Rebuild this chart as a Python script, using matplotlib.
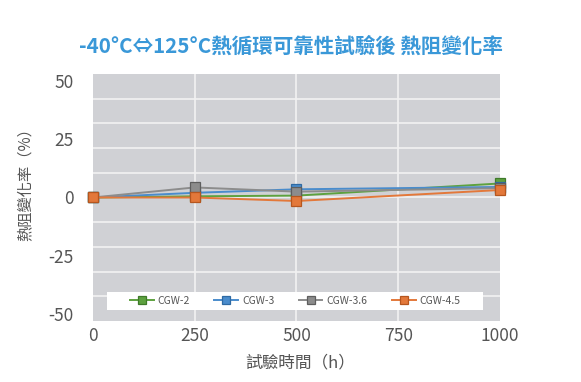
import matplotlib.pyplot as plt
import matplotlib.patches as mpatches
import numpy as np

plt.rcParams['font.family'] = ['Noto Sans CJK TC', 'DejaVu Sans']
plt.rcParams['axes.unicode_minus'] = False

hours = [0, 250, 500, 1000]
series_names = ['CGW-2', 'CGW-3', 'CGW-3.6', 'CGW-4.5']
cgw_2 = [0, 0.5, 0.8, 6.0]
cgw_3 = [0, 2.0, 3.5, 4.5]
cgw_36 = [0, 4.3, 2.5, 4.0]
cgw_45 = [0, 0.0, -1.5, 3.2]

x_ticks = [0, 250, 500, 750, 1000]
y_ticks = [-50, -25, 0, 25, 50]

colors = ['#5da13f', '#4a8ccc', '#8c8c8c', '#e3783a']
edges = ['#3f7a2a', '#2f6aa3', '#5e5e5e', '#b5561f']

fig = plt.figure(figsize=(5.81, 3.82), dpi=100)
ax = fig.add_axes([0.160, 0.1597, 0.7005, 0.6466])
ax.set_facecolor('#d0d1d5')

# grid lines (10 equal bands, independent of labels like the original)
ylim = 52.8
for g in np.linspace(-ylim, ylim, 11)[1:-1]:
    ax.axhline(g, color='#f2f2f2', lw=1.2, zorder=1)
for g in [250, 500, 750]:
    ax.axvline(g, color='#f2f2f2', lw=1.2, zorder=1)

for vals, name, c, ec in zip([cgw_2, cgw_3, cgw_36, cgw_45], series_names, colors, edges):
    ax.plot(hours, vals, color=c, lw=1.4, marker='s', markersize=6.5,
            markerfacecolor=c, markeredgecolor=ec, markeredgewidth=0.9,
            label=name, zorder=3, clip_on=False)

ax.set_xlim(0, 1000)
ax.set_ylim(-ylim, ylim)
ax.set_xticks(x_ticks)
ax.set_yticks(y_ticks)
ax.tick_params(axis='x', length=0, labelsize=12.5, labelcolor='#555555', pad=4)
ax.tick_params(axis='y', length=0, labelsize=12.5, labelcolor='#555555', pad=14)
for s in ax.spines.values():
    s.set_visible(False)

ax.set_xlabel('試驗時間（h）', fontsize=12, color='#555555', labelpad=6)
ax.xaxis.set_label_coords(0.51, -0.135)
ax.set_ylabel('熱阻變化率（%）', fontsize=11, color='#555555')
ax.yaxis.set_label_coords(-0.145, 0.567)
fig.text(0.5, 0.879, '-40°C⇔125°C熱循環可靠性試驗後 熱阻變化率', ha='center', va='center',
         fontsize=14.8, fontweight='bold', color='#3a98d8')

# white legend strip
ax.add_patch(mpatches.Rectangle((0.034, 0.045), 0.924, 0.072, transform=ax.transAxes,
                                facecolor='white', edgecolor='none', zorder=4))
leg = ax.legend(loc='center', bbox_to_anchor=(0.497, 0.081), ncol=4, fontsize=7.5,
                frameon=False, borderaxespad=0, handlelength=2.3, handletextpad=0.4,
                columnspacing=2.3, markerscale=0.8)
leg.set_zorder(5)
for t in leg.get_texts():
    t.set_color('#555555')

fig.savefig('out.png', dpi=100)
